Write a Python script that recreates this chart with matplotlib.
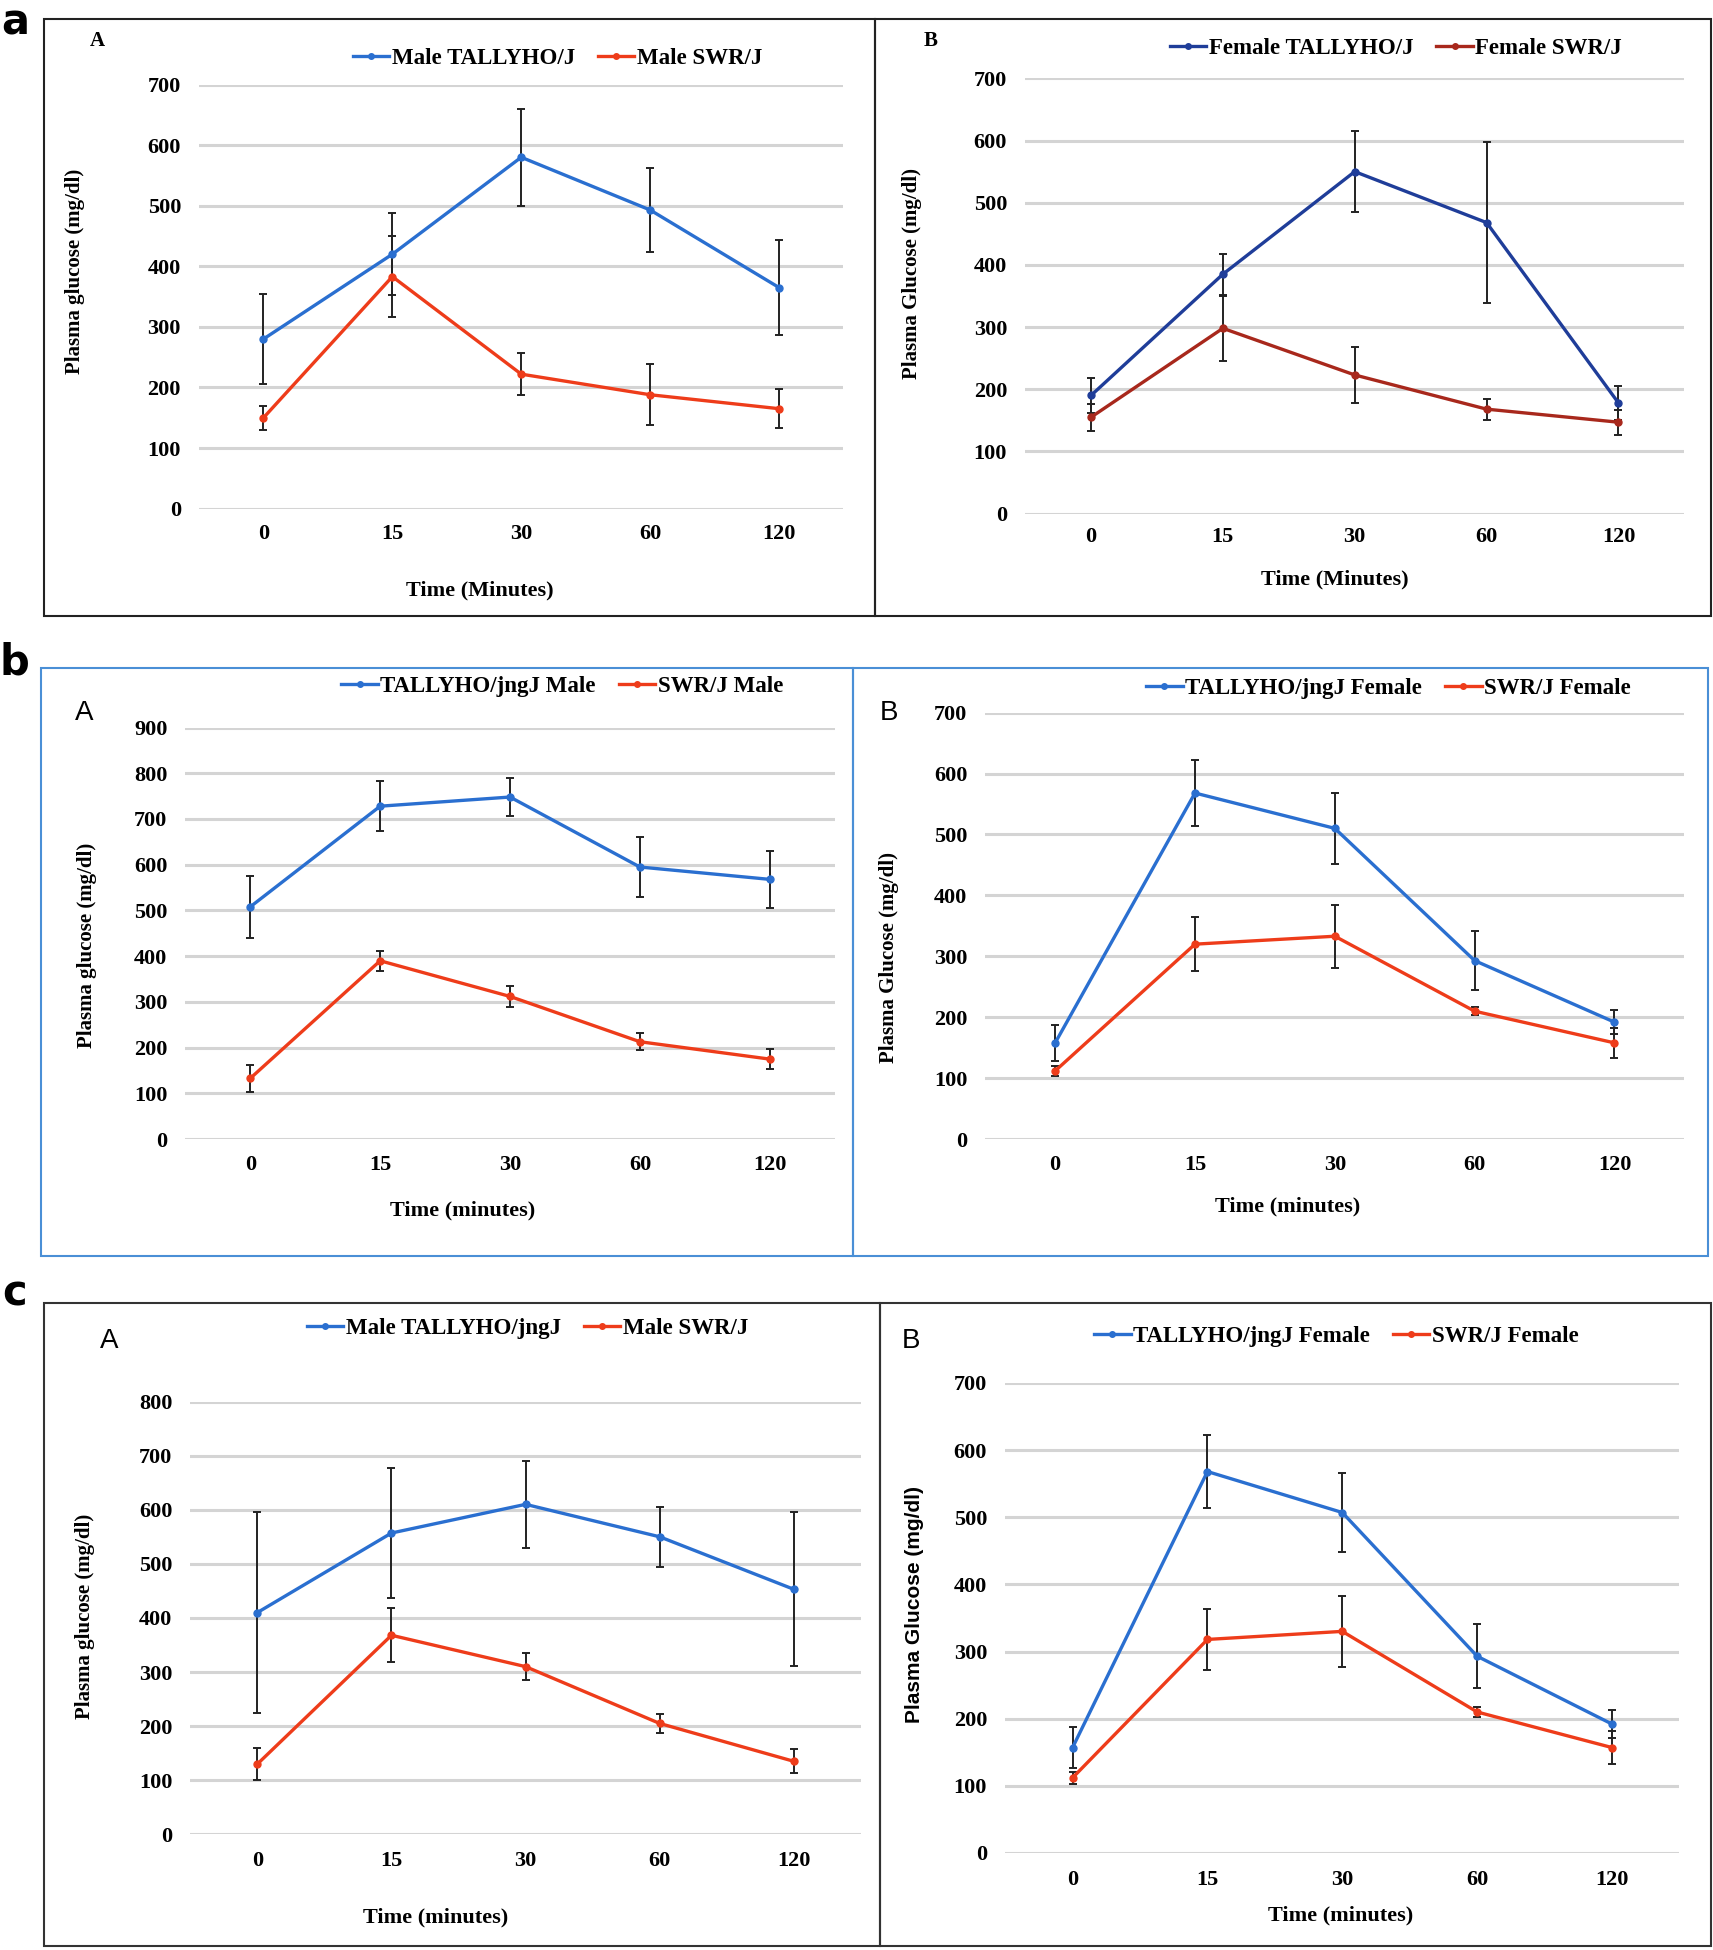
import matplotlib
matplotlib.use("Agg")
import matplotlib.pyplot as plt
from matplotlib.patches import Rectangle
from matplotlib.lines import Line2D

# Data ---------
time_labels = ["0", "15", "30", "60", "120"]

# a - A (male)
aA_tally = [280, 420, 580, 493, 365]
aA_tally_err = [75, 68, 80, 70, 78]
aA_swr = [150, 383, 222, 188, 165]
aA_swr_err = [20, 67, 35, 50, 32]
# a - B (female)
aB_tally = [190, 385, 550, 468, 178]
aB_tally_err = [28, 33, 65, 130, 28]
aB_swr = [155, 298, 223, 168, 147]
aB_swr_err = [22, 52, 45, 17, 20]
# b - A (male)
bA_tally = [508, 728, 748, 595, 568]
bA_tally_err = [68, 55, 42, 66, 62]
bA_swr = [133, 390, 312, 213, 175]
bA_swr_err = [30, 22, 22, 19, 22]
# b - B (female)
bB_tally = [158, 568, 510, 293, 192]
bB_tally_err = [30, 54, 58, 48, 20]
bB_swr = [112, 320, 333, 210, 158]
bB_swr_err = [8, 44, 52, 7, 25]
# c - A (male)
cA_tally = [410, 557, 610, 550, 453]
cA_tally_err = [185, 120, 80, 56, 142]
cA_swr = [130, 368, 310, 205, 135]
cA_swr_err = [30, 50, 25, 18, 22]
# c - B (female)
cB_tally = [157, 568, 507, 293, 192]
cB_tally_err = [30, 54, 59, 48, 21]
cB_swr = [112, 318, 330, 210, 157]
cB_swr_err = [9, 45, 53, 7, 25]

W, H = 1377.0, 1568.0   # reference coords used for placement

def fx(x):
    return x / W

def fy(y):
    return 1 - y / H

BLUE = "#2a6fd0"
RED = "#ee3c1a"
DBLUE = "#1f3d99"
DRED = "#a8281c"
SERIF = "Liberation Serif"
SANS = "Liberation Sans"

fig = plt.figure(figsize=(17.13, 19.5), dpi=100)

# frames round each panel
def box(x0, y0, x1, y1, color, lw=1.5):
    fig.add_artist(Rectangle((fx(x0), fy(y1)), fx(x1) - fx(x0), fy(y0) - fy(y1),
                             transform=fig.transFigure, fill=False, edgecolor=color, linewidth=lw))

box(35, 15, 703, 495, "#222222")
box(703, 15, 1375, 495, "#222222")
box(33, 537, 686, 1010, "#4a8fd6")
box(686, 537, 1373, 1010, "#4a8fd6")
box(35, 1048, 707, 1565, "#333333")
box(707, 1048, 1375, 1565, "#333333")

for lab, (x, y) in zip(["a", "b", "c"], [(12, 18), (12, 533), (12, 1040)]):
    fig.text(fx(x), fy(y), lab, fontsize=30, fontweight="bold", family="DejaVu Sans",
             ha="center", va="center")


def panel(left, right, top, bottom, ymax, tally, tally_err, swr, swr_err, c1, c2,
          names, leg_xy, letter, letter_xy, letter_style, ylab, ylab_xy, ylab_font,
          xlab, xlab_xy, tick_y):
    ax = fig.add_axes([fx(left), fy(bottom), fx(right) - fx(left), fy(top) - fy(bottom)])
    x = list(range(len(time_labels)))
    ax.errorbar(x, tally, yerr=tally_err, color=c1, lw=2.4, marker="o", ms=5,
                ecolor="#222222", elinewidth=1.4, capsize=3, capthick=1.4, zorder=3)
    ax.errorbar(x, swr, yerr=swr_err, color=c2, lw=2.4, marker="o", ms=5,
                ecolor="#222222", elinewidth=1.4, capsize=3, capthick=1.4, zorder=3)
    ax.set_xlim(-0.5, 4.5)
    ax.set_ylim(0, ymax)
    ax.set_yticks(range(0, ymax + 1, 100))
    ax.set_xticks(x)
    ax.set_xticklabels(time_labels)
    ax.grid(axis="y", color="#d4d4d4", lw=2.2)
    ax.set_axisbelow(True)
    for s in ax.spines.values():
        s.set_visible(False)
    ax.tick_params(length=0, labelsize=16, pad=13)
    ax.tick_params(axis="x", pad=(tick_y - bottom) * 1.244 * 0.72 - 8)
    for t in ax.get_xticklabels() + ax.get_yticklabels():
        t.set_fontfamily(SERIF)
        t.set_fontweight("bold")
    # legend
    handles = [Line2D([], [], color=c1, lw=2.4, marker="o", ms=4),
               Line2D([], [], color=c2, lw=2.4, marker="o", ms=4)]
    fig.legend(handles, names, loc="center", bbox_to_anchor=(fx(leg_xy[0]), fy(leg_xy[1])),
               ncol=2, frameon=False, handlelength=1.6, handletextpad=0.1,
               columnspacing=1.0, prop={"family": SERIF, "weight": "bold", "size": 16.5})
    if letter_style == "serif":
        fig.text(fx(letter_xy[0]), fy(letter_xy[1]), letter, fontsize=15, fontweight="bold",
                 family=SERIF, ha="center", va="center")
    else:
        fig.text(fx(letter_xy[0]), fy(letter_xy[1]), letter, fontsize=20,
                 family=SANS, ha="center", va="center")
    fig.text(fx(ylab_xy[0]), fy(ylab_xy[1]), ylab, rotation=90, fontsize=15,
             fontweight="bold", family=ylab_font, ha="center", va="center")
    fig.text(fx(xlab_xy[0]), fy(xlab_xy[1]), xlab, fontsize=16, fontweight="bold",
             family=SERIF, ha="center", va="center")
    return ax


panel(160, 678, 68, 409, 700, aA_tally, aA_tally_err, aA_swr, aA_swr_err, BLUE, RED,
      ["Male TALLYHO/J", "Male SWR/J"], (448, 47), "A", (78, 33), "serif",
      "Plasma glucose (mg/dl)", (60, 218), SERIF, "Time (Minutes)", (386, 475), 430)
panel(824, 1354, 63, 413, 700, aB_tally, aB_tally_err, aB_swr, aB_swr_err, DBLUE, DRED,
      ["Female TALLYHO/J", "Female SWR/J"], (1122, 39), "B", (748, 33), "serif",
      "Plasma Glucose (mg/dl)", (733, 220), SERIF, "Time (Minutes)", (1073, 466), 433)
panel(149, 671, 585, 916, 900, bA_tally, bA_tally_err, bA_swr, bA_swr_err, BLUE, RED,
      ["TALLYHO/jngJ Male", "SWR/J Male"], (452, 552), "A", (68, 573), "sans",
      "Plasma glucose (mg/dl)", (70, 760), SERIF, "Time (minutes)", (372, 973), 938)
panel(792, 1354, 573, 916, 700, bB_tally, bB_tally_err, bB_swr, bB_swr_err, BLUE, RED,
      ["TALLYHO/jngJ Female", "SWR/J Female"], (1116, 554), "B", (715, 573), "sans",
      "Plasma Glucose (mg/dl)", (715, 770), SERIF, "Time (minutes)", (1035, 970), 938)
panel(153, 692, 1127, 1475, 800, cA_tally, cA_tally_err, cA_swr, cA_swr_err, BLUE, RED,
      ["Male TALLYHO/jngJ", "Male SWR/J"], (424, 1068), "A", (88, 1078), "sans",
      "Plasma glucose (mg/dl)", (68, 1300), SERIF, "Time (minutes)", (350, 1542), 1497)
panel(808, 1350, 1112, 1490, 700, cB_tally, cB_tally_err, cB_swr, cB_swr_err, BLUE, RED,
      ["TALLYHO/jngJ Female", "SWR/J Female"], (1074, 1075), "B", (732, 1078), "sans",
      "Plasma Glucose (mg/dl)", (735, 1290), SANS, "Time (minutes)", (1078, 1540), 1513)

fig.savefig("out.png", dpi=100)
